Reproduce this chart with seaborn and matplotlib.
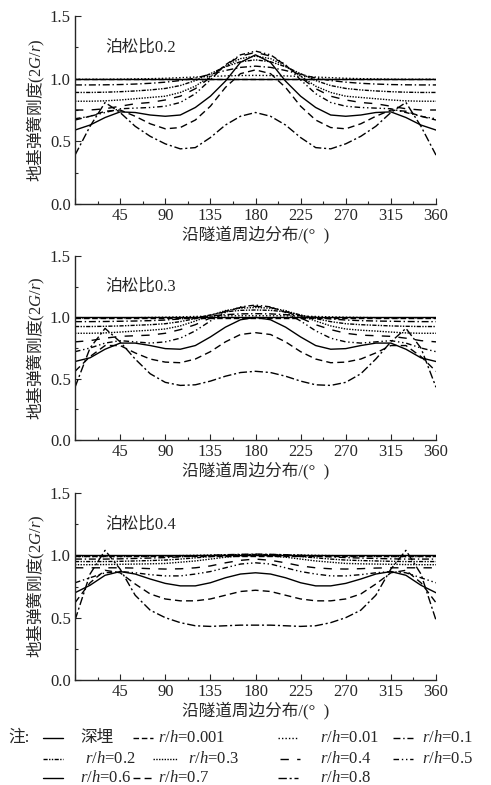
import matplotlib
matplotlib.use("Agg")
import matplotlib.pyplot as plt
from matplotlib.lines import Line2D
import pandas as pd
import seaborn as sns

# angle around the tunnel (deg)
angles = list(range(0, 361, 15))

cases = ["深埋", "0.001", "0.01", "0.1", "0.2", "0.3", "0.4", "0.5", "0.6", "0.7", "0.8"]

# Poisson ratio 0.2
v02_deep = [1.0] * 25
v02_r0001 = [0.997] * 25
v02_r001 = [0.995, 0.995, 0.995, 0.996, 0.998, 1.0, 1.003, 1.008, 1.013, 1.018, 1.022, 1.025, 1.026,
            1.025, 1.022, 1.018, 1.013, 1.008, 1.003, 1.0, 0.998, 0.996, 0.995, 0.995, 0.995]
v02_r01 = [0.95, 0.95, 0.951, 0.953, 0.957, 0.963, 0.972, 0.985, 1.005, 1.035, 1.065, 1.09, 1.10,
           1.09, 1.065, 1.035, 1.005, 0.985, 0.972, 0.963, 0.957, 0.953, 0.951, 0.95, 0.95]
v02_r02 = [0.89, 0.89, 0.892, 0.896, 0.902, 0.91, 0.922, 0.945, 0.985, 1.04, 1.095, 1.135, 1.15,
           1.135, 1.095, 1.04, 0.985, 0.945, 0.922, 0.91, 0.902, 0.896, 0.892, 0.89, 0.89]
v02_r03 = [0.82, 0.82, 0.823, 0.83, 0.84, 0.85, 0.86, 0.89, 0.94, 1.02, 1.10, 1.16, 1.18,
           1.16, 1.10, 1.02, 0.94, 0.89, 0.86, 0.85, 0.84, 0.83, 0.823, 0.82, 0.82]
v02_r04 = [0.75, 0.75, 0.76, 0.78, 0.80, 0.81, 0.83, 0.86, 0.92, 1.01, 1.11, 1.18, 1.21,
           1.18, 1.11, 1.01, 0.92, 0.86, 0.83, 0.81, 0.80, 0.78, 0.76, 0.75, 0.75]
v02_r05 = [0.68, 0.70, 0.73, 0.76, 0.765, 0.77, 0.78, 0.81, 0.88, 0.99, 1.11, 1.19, 1.22,
           1.19, 1.11, 0.99, 0.88, 0.81, 0.78, 0.77, 0.765, 0.76, 0.73, 0.70, 0.68]
v02_r06 = [0.59, 0.63, 0.69, 0.735, 0.73, 0.71, 0.70, 0.71, 0.77, 0.86, 0.98, 1.13, 1.19,
           1.13, 0.98, 0.86, 0.77, 0.71, 0.70, 0.71, 0.73, 0.735, 0.69, 0.63, 0.59]
v02_r07 = [0.67, 0.70, 0.74, 0.75, 0.70, 0.64, 0.60, 0.61, 0.67, 0.78, 0.93, 1.04, 1.07,
           1.04, 0.93, 0.78, 0.67, 0.61, 0.60, 0.64, 0.70, 0.75, 0.74, 0.70, 0.67]
v02_r08 = [0.39, 0.62, 0.81, 0.73, 0.62, 0.54, 0.48, 0.44, 0.45, 0.53, 0.63, 0.70, 0.73,
           0.70, 0.63, 0.53, 0.45, 0.44, 0.48, 0.54, 0.62, 0.73, 0.81, 0.62, 0.39]

# Poisson ratio 0.3
v03_deep = [1.0] * 25
v03_r0001 = [0.998] * 25
v03_r001 = [0.995, 0.995, 0.995, 0.996, 0.997, 0.999, 1.001, 1.004, 1.007, 1.01, 1.012, 1.013, 1.013,
            1.013, 1.012, 1.01, 1.007, 1.004, 1.001, 0.999, 0.997, 0.996, 0.995, 0.995, 0.995]
v03_r01 = [0.965, 0.965, 0.966, 0.968, 0.97, 0.973, 0.978, 0.987, 1.0, 1.012, 1.022, 1.028, 1.03,
           1.028, 1.022, 1.012, 1.0, 0.987, 0.978, 0.973, 0.97, 0.968, 0.966, 0.965, 0.965]
v03_r02 = [0.925, 0.925, 0.927, 0.93, 0.935, 0.94, 0.948, 0.965, 0.99, 1.02, 1.045, 1.057, 1.06,
           1.057, 1.045, 1.02, 0.99, 0.965, 0.948, 0.94, 0.935, 0.93, 0.927, 0.925, 0.925]
v03_r03 = [0.87, 0.87, 0.873, 0.88, 0.888, 0.895, 0.905, 0.93, 0.97, 1.015, 1.055, 1.075, 1.08,
           1.075, 1.055, 1.015, 0.97, 0.93, 0.905, 0.895, 0.888, 0.88, 0.873, 0.87, 0.87]
v03_r04 = [0.80, 0.81, 0.83, 0.845, 0.85, 0.855, 0.87, 0.90, 0.94, 0.995, 1.05, 1.08, 1.09,
           1.08, 1.05, 0.995, 0.94, 0.90, 0.87, 0.855, 0.85, 0.845, 0.83, 0.81, 0.80]
v03_r05 = [0.72, 0.75, 0.79, 0.81, 0.80, 0.79, 0.80, 0.83, 0.89, 0.97, 1.04, 1.085, 1.10,
           1.085, 1.04, 0.97, 0.89, 0.83, 0.80, 0.79, 0.80, 0.81, 0.79, 0.75, 0.72]
v03_r06 = [0.64, 0.67, 0.74, 0.79, 0.79, 0.77, 0.745, 0.74, 0.77, 0.84, 0.92, 0.98, 1.0,
           0.98, 0.92, 0.84, 0.77, 0.74, 0.745, 0.77, 0.79, 0.79, 0.74, 0.67, 0.64]
v03_r07 = [0.56, 0.68, 0.77, 0.77, 0.71, 0.66, 0.635, 0.63, 0.66, 0.72, 0.80, 0.86, 0.875,
           0.86, 0.80, 0.72, 0.66, 0.63, 0.635, 0.66, 0.71, 0.77, 0.77, 0.68, 0.56]
v03_r08 = [0.43, 0.75, 0.91, 0.80, 0.66, 0.54, 0.47, 0.445, 0.45, 0.48, 0.52, 0.55, 0.56,
           0.55, 0.52, 0.48, 0.45, 0.445, 0.47, 0.54, 0.66, 0.80, 0.91, 0.75, 0.43]

# Poisson ratio 0.4
v04_deep = [1.0] * 25
v04_r0001 = [0.998] * 25
v04_r001 = [0.99, 0.99, 0.99, 0.99, 0.991, 0.993, 0.995, 0.998, 1.0, 1.003, 1.005, 1.006, 1.006,
            1.006, 1.005, 1.003, 1.0, 0.998, 0.995, 0.993, 0.991, 0.99, 0.99, 0.99, 0.99]
v04_r01 = [0.97, 0.97, 0.97, 0.972, 0.975, 0.978, 0.982, 0.988, 0.995, 1.0, 1.005, 1.008, 1.01,
           1.008, 1.005, 1.0, 0.995, 0.988, 0.982, 0.978, 0.975, 0.972, 0.97, 0.97, 0.97]
v04_r02 = [0.95, 0.95, 0.95, 0.952, 0.955, 0.958, 0.962, 0.97, 0.98, 0.99, 1.0, 1.005, 1.007,
           1.005, 1.0, 0.99, 0.98, 0.97, 0.962, 0.958, 0.955, 0.952, 0.95, 0.95, 0.95]
v04_r03 = [0.925, 0.925, 0.926, 0.928, 0.93, 0.932, 0.935, 0.945, 0.955, 0.97, 0.985, 0.995, 1.0,
           0.995, 0.985, 0.97, 0.955, 0.945, 0.935, 0.932, 0.93, 0.928, 0.926, 0.925, 0.925]
v04_r04 = [0.90, 0.90, 0.90, 0.90, 0.898, 0.893, 0.89, 0.892, 0.90, 0.915, 0.94, 0.96, 0.97,
           0.96, 0.94, 0.915, 0.90, 0.892, 0.89, 0.893, 0.898, 0.90, 0.90, 0.90, 0.90]
v04_r05 = [0.78, 0.82, 0.86, 0.87, 0.86, 0.845, 0.835, 0.835, 0.85, 0.87, 0.90, 0.93, 0.94,
           0.93, 0.90, 0.87, 0.85, 0.835, 0.835, 0.845, 0.86, 0.87, 0.86, 0.82, 0.78]
v04_r06 = [0.70, 0.76, 0.84, 0.87, 0.85, 0.81, 0.775, 0.755, 0.755, 0.78, 0.82, 0.85, 0.86,
           0.85, 0.82, 0.78, 0.755, 0.755, 0.775, 0.81, 0.85, 0.87, 0.84, 0.76, 0.70]
v04_r07 = [0.62, 0.78, 0.88, 0.86, 0.77, 0.69, 0.65, 0.635, 0.635, 0.65, 0.68, 0.71, 0.72,
           0.71, 0.68, 0.65, 0.635, 0.635, 0.65, 0.69, 0.77, 0.86, 0.88, 0.78, 0.62]
v04_r08 = [0.48, 0.85, 1.04, 0.89, 0.68, 0.56, 0.50, 0.46, 0.435, 0.43, 0.435, 0.44, 0.44,
           0.44, 0.435, 0.43, 0.435, 0.46, 0.50, 0.56, 0.68, 0.89, 1.04, 0.85, 0.48]

panels = [
    ("泊松比0.2", [v02_deep, v02_r0001, v02_r001, v02_r01, v02_r02, v02_r03,
                v02_r04, v02_r05, v02_r06, v02_r07, v02_r08]),
    ("泊松比0.3", [v03_deep, v03_r0001, v03_r001, v03_r01, v03_r02, v03_r03,
                v03_r04, v03_r05, v03_r06, v03_r07, v03_r08]),
    ("泊松比0.4", [v04_deep, v04_r0001, v04_r001, v04_r01, v04_r02, v04_r03,
                v04_r04, v04_r05, v04_r06, v04_r07, v04_r08]),
]

dash_map = {
    "深埋": "",
    "0.001": (4, 2),
    "0.01": (1, 1.5),
    "0.1": (5, 2, 1, 2),
    "0.2": (3, 1, 1, 1, 1, 1),
    "0.3": (1, 1),
    "0.4": (6, 6),
    "0.5": (4, 2, 1, 2, 1, 2),
    "0.6": "",
    "0.7": (5, 3),
    "0.8": (6, 2, 1.5, 2),
}

sns.set_style("ticks")
plt.rcParams["font.family"] = ["Liberation Serif", "Noto Sans CJK SC"]
plt.rcParams["mathtext.fontset"] = "custom"
plt.rcParams["mathtext.rm"] = "Liberation Serif"
plt.rcParams["mathtext.it"] = "Liberation Serif:italic"
plt.rcParams["axes.unicode_minus"] = False

fig = plt.figure(figsize=(4.91, 7.85), dpi=100)
W, H = 491.0, 785.0
# axes boxes in pixels: (left, top, right, bottom)
boxes = [(75, 16, 436, 204), (75, 256, 436, 440), (75, 493, 436, 680)]

for (title, series), (l, t, r, b) in zip(panels, boxes):
    ax = fig.add_axes([l / W, 1 - b / H, (r - l) / W, (b - t) / H])
    rows = []
    for name, vals in zip(cases, series):
        for a, v in zip(angles, vals):
            rows.append({"angle": a, "k": v, "case": name})
    df = pd.DataFrame(rows)
    sns.lineplot(data=df, x="angle", y="k", style="case", dashes=dash_map,
                 color="black", linewidth=1.0, legend=False, errorbar=None,
                 sort=False, ax=ax)
    ax.set_xlim(0, 360)
    ax.set_ylim(0, 1.5)
    ax.set_xticks(range(0, 361, 45))
    ax.set_xticklabels([""] + [str(v) for v in range(45, 361, 45)])
    ax.set_xticks([22.5 + 45 * i for i in range(8)], minor=True)
    ax.set_yticks([0, 0.5, 1.0, 1.5])
    ax.set_yticklabels(["0.0", "0.5", "1.0", "1.5"])
    ax.set_yticks([0.25, 0.75, 1.25], minor=True)
    ax.tick_params(which="major", direction="in", length=4, width=0.8, labelsize=12, pad=3)
    ax.tick_params(which="minor", direction="in", length=2.5, width=0.8)
    for s in ["top", "right"]:
        ax.spines[s].set_visible(False)
    for s in ["left", "bottom"]:
        ax.spines[s].set_linewidth(1.0)
    ax.set_xlabel("沿隧道周边分布/(°  )", fontsize=12, labelpad=1)
    ax.set_ylabel(r"地基弹簧刚度$(2G/r)$", fontsize=12, labelpad=2,
                  family="Noto Sans CJK SC")
    ax.text(30 / 360, 1.25 / 1.5, title, transform=ax.transAxes, fontsize=12,
            ha="left", va="center")

# legend note at the bottom
fig.text(8 / W, 1 - 738 / H, "注:", fontsize=12, va="center", ha="left")
legend_items = [
    # (case, line x0, line x1, text x, row y)
    ("深埋", 43, 63, 80, 738),
    ("0.001", 133, 153, 158, 738),
    ("0.01", 278, 298, 320, 738),
    ("0.1", 393, 413, 422, 738),
    ("0.2", 43, 63, 85, 759),
    ("0.3", 153, 177, 188, 759),
    ("0.4", 280, 300, 320, 759),
    ("0.5", 393, 413, 422, 759),
    ("0.6", 43, 63, 80, 778),
    ("0.7", 133, 153, 158, 778),
    ("0.8", 278, 298, 320, 778),
]
for name, x0, x1, tx, y in legend_items:
    ln = Line2D([x0 / W, x1 / W], [1 - y / H, 1 - y / H], transform=fig.transFigure,
                color="black", linewidth=1.0)
    if dash_map[name] != "":
        ln.set_dashes(dash_map[name])
    fig.add_artist(ln)
    label = name if name == "深埋" else r"$r/h$=" + name
    fig.text(tx / W, 1 - y / H, label, fontsize=12, va="center", ha="left")

fig.savefig("out.png", dpi=100)
